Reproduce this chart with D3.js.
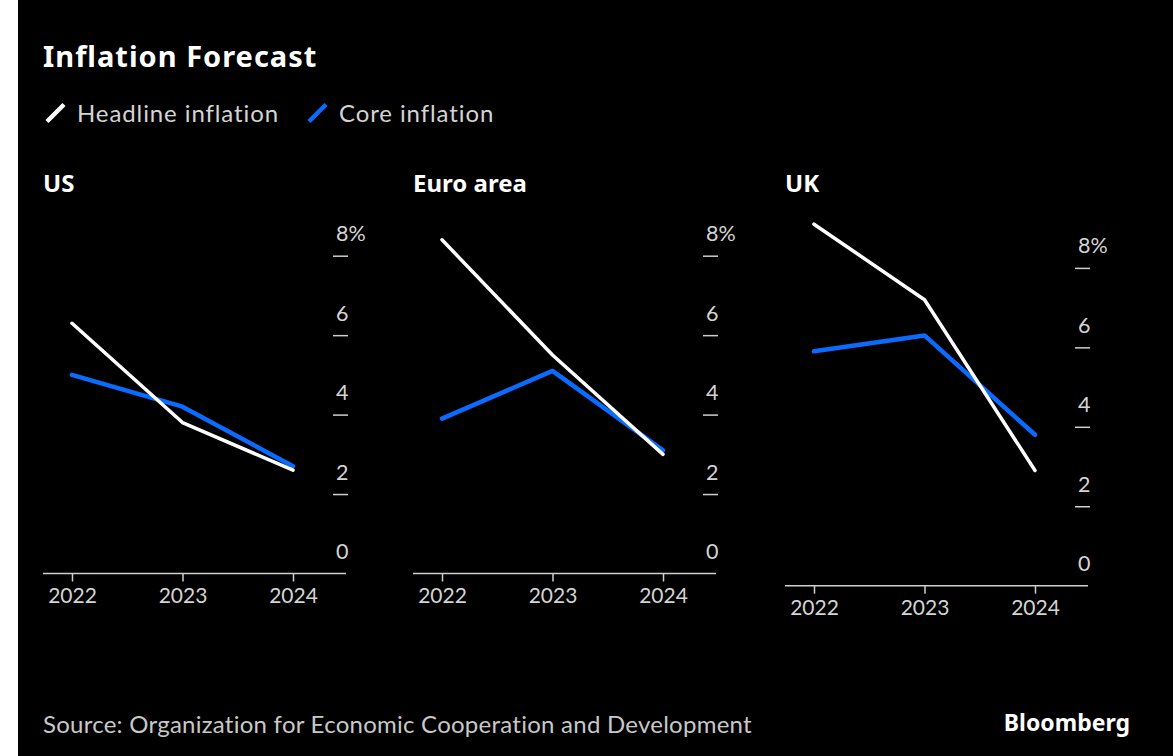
<!DOCTYPE html>
<html>
<head>
<meta charset="utf-8">
<script src="https://cdn.jsdelivr.net/npm/d3@7"></script>
<style>
  body { margin: 0; background: #fff; }
  svg { display: block; }
  text { font-family: Lato, "Noto Sans", sans-serif; }
  .bold { font-family: "Noto Sans", Lato, sans-serif; font-weight: bold; }
</style>
</head>
<body>
<svg id="chart" width="1173" height="756"></svg>
<script>
// data (percent)
let years = [2022, 2023, 2024];
let panelNames = ["US", "Euro area", "UK"];
let headlineUS = [6.3, 3.8, 2.6],
    coreUS = [5.0, 4.2, 2.7];
let headlineEuro = [8.4, 5.5, 3.0],
    coreEuro = [3.9, 5.1, 3.1];
let headlineUK = [9.1, 7.2, 2.9],
    coreUK = [5.9, 6.3, 3.8];
let yTicks = [0, 2, 4, 6, 8];
let seriesNames = ["Headline inflation", "Core inflation"];
let seriesColors = ["#ffffff", "#0a6cff"];

let headlines = [headlineUS, headlineEuro, headlineUK],
    cores = [coreUS, coreEuro, coreUK];

let svg = d3.select("#chart");

// background, leaves the thin white strip on the left
svg.append("rect")
    .attr("x", 18).attr("y", 0)
    .attr("width", 1173 - 18).attr("height", 756)
    .attr("fill", "#000");

// title
svg.append("text")
    .attr("class", "bold")
    .attr("x", 43).attr("y", 67)
    .attr("fill", "#fff")
    .attr("font-size", "29px")
    .attr("letter-spacing", "1px")
    .text("Inflation Forecast");

// legend
let legendX = [45, 307];
let legend = svg.selectAll(".legend")
    .data(seriesNames)
    .enter().append("g")
    .attr("class", "legend")
    .attr("transform", function(d, i) { return "translate(" + legendX[i] + ",0)"; });

legend.append("line")
    .attr("x1", 2).attr("y1", 121.5)
    .attr("x2", 19).attr("y2", 104.5)
    .attr("stroke", function(d, i) { return seriesColors[i]; })
    .attr("stroke-width", 4.5);

legend.append("text")
    .attr("x", 32).attr("y", 121.5)
    .attr("fill", "#d4d4d4")
    .attr("font-size", "24px")
    .attr("letter-spacing", "0.9px")
    .text(function(d) { return d; });

// panels
let panelLeft = [43, 413, 785],
    panelBase = [573.5, 573.5, 585.7],
    panelWidth = 303,
    plotHeight = 317.8;

panelNames.forEach(function(name, p) {
    let g = svg.append("g")
        .attr("transform", "translate(" + panelLeft[p] + ",0)");

    let x = d3.scalePoint().domain(years).range([29, 250]);
    let y = d3.scaleLinear().domain([0, 8])
        .range([panelBase[p], panelBase[p] - plotHeight]);

    // panel title
    g.append("text")
        .attr("class", "bold")
        .attr("x", 0).attr("y", 192)
        .attr("fill", "#fff")
        .attr("font-size", "24px")
        .text(name);

    // y axis: short dashes with labels above them
    let yAxis = g.append("g")
        .attr("transform", "translate(290,0)")
        .call(d3.axisRight(y).tickValues(yTicks).tickSize(15)
            .tickFormat(function(d) { return d === 8 ? d + "%" : d; }));
    yAxis.select(".domain").remove();
    yAxis.selectAll(".tick line")
        .attr("stroke", "#cfcfcf")
        .attr("stroke-width", 1.5)
        .filter(function(d) { return d === 0; }).remove();
    yAxis.selectAll(".tick text")
        .attr("x", 3).attr("y", -15).attr("dy", 0)
        .attr("text-anchor", "start")
        .attr("fill", "#d4d4d4")
        .attr("font-size", "21.5px");

    // x axis
    g.append("line")
        .attr("x1", 0).attr("x2", panelWidth)
        .attr("y1", panelBase[p]).attr("y2", panelBase[p])
        .attr("stroke", "#cfcfcf")
        .attr("stroke-width", 1.5);

    let xAxis = g.append("g")
        .attr("transform", "translate(0," + panelBase[p] + ")")
        .call(d3.axisBottom(x).tickSize(8).tickSizeOuter(0));
    xAxis.select(".domain").remove();
    xAxis.selectAll(".tick line")
        .attr("stroke", "#cfcfcf")
        .attr("stroke-width", 1.5);
    xAxis.selectAll(".tick text")
        .attr("y", 29).attr("dy", 0)
        .attr("fill", "#d4d4d4")
        .attr("font-size", "21px");

    // lines, core first so headline sits on top
    let line = d3.line()
        .x(function(d, i) { return x(years[i]); })
        .y(function(d) { return y(d); });

    [cores[p], headlines[p]].forEach(function(values, k) {
        g.append("path")
            .datum(values)
            .attr("fill", "none")
            .attr("stroke", seriesColors[1 - k])
            .attr("stroke-width", k === 0 ? 4.5 : 3.5)
            .attr("stroke-linecap", "round")
            .attr("stroke-linejoin", "round")
            .attr("d", line);
    });
});

// footer
svg.append("text")
    .attr("x", 43).attr("y", 732.5)
    .attr("fill", "#c8c8c8")
    .attr("font-size", "24px")
    .attr("letter-spacing", "0.25px")
    .text("Source: Organization for Economic Cooperation and Development");

svg.append("text")
    .attr("class", "bold")
    .attr("x", 1130).attr("y", 730.5)
    .attr("text-anchor", "end")
    .attr("fill", "#fff")
    .attr("font-size", "23px")
    .text("Bloomberg");
</script>
</body>
</html>
